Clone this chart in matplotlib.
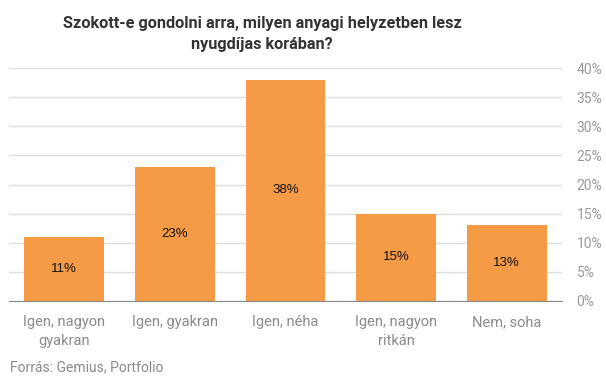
import matplotlib
matplotlib.use("Agg")
import matplotlib.pyplot as plt

categories = ["Igen, nagyon\ngyakran", "Igen, gyakran", "Igen, néha", "Igen, nagyon\nritkán", "Nem, soha"]
values = [11, 23, 38, 15, 13]
yticks = [0, 5, 10, 15, 20, 25, 30, 35, 40]

plt.rcParams['font.family'] = ['Roboto', 'DejaVu Sans']

fig = plt.figure(figsize=(6.06, 3.78), dpi=100)
ax = fig.add_axes([9 / 606, 77 / 378, 553 / 606, 233 / 378])

x = range(len(categories))
ax.bar(x, values, width=0.723, color='#F59A45', zorder=2)
for xi, v in zip(x, values):
    ax.text(xi, v / 2, f"{v}%", ha='center', va='center', fontsize=9.5,
            color='#111111', family='Liberation Sans', zorder=3)

ax.set_xlim(-0.5, len(categories) - 0.5)
ax.set_ylim(0, 40)
ax.set_yticks(yticks)
ax.set_yticklabels([f"{t}%" for t in yticks])
ax.yaxis.tick_right()
ax.tick_params(axis='y', length=0, pad=10.5, labelsize=10, labelcolor='#9a9a9a')
ax.set_xticks(list(x))
ax.set_xticklabels(categories, fontsize=10.5, color='#8a8a8a', linespacing=1.5)
ax.tick_params(axis='x', length=0, pad=10)
ax.grid(axis='y', color='#dddddd', linewidth=1, zorder=0)
for s in ['top', 'left', 'right']:
    ax.spines[s].set_visible(False)
ax.spines['bottom'].set_color('#888888')
ax.spines['bottom'].set_zorder(3)

fig.text(262 / 606, 1 - 34 / 378, "Szokott-e gondolni arra, milyen anyagi helyzetben lesz\nnyugdíjas korában?",
         ha='center', va='center', fontsize=11.7, fontweight='bold', color='#333333',
         linespacing=1.5)
fig.text(10 / 606, 1 - 367 / 378, "Forrás: Gemius, Portfolio", ha='left', va='center',
         fontsize=10, color='#8a8a8a')

fig.savefig("out.png", dpi=100)
